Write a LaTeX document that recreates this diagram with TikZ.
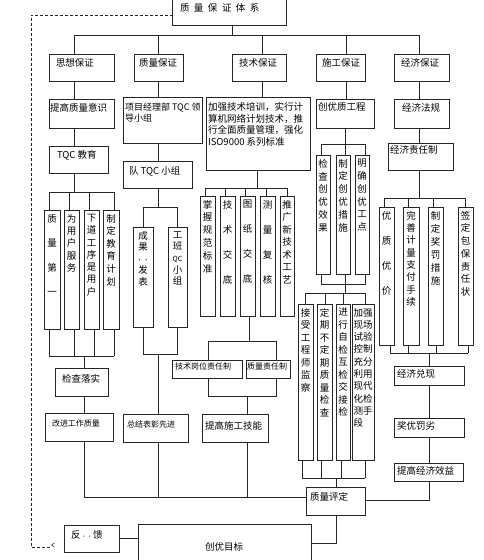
\documentclass[tikz,border=0pt]{standalone}
\usepackage{fontspec}
\newfontfamily\cjk{Noto Sans CJK SC}
\tikzset{
  ln/.style={line width=0.7pt, draw=black!85},
  box/.style={rectangle, draw=black!85, line width=0.7pt, inner sep=0pt, outer sep=0pt},
  txt/.style={inner sep=0pt, outer sep=0pt, text=black, font=\cjk\fontsize{9.5}{11.5}\selectfont},
  sm/.style={txt, font=\cjk\fontsize{8}{10}\selectfont},
  fbdash/.style={line width=0.7pt, draw=black!85, dash pattern=on 3pt off 2pt},
}
\newcommand\bxx[5]{\node[box, minimum width={(#4)-(#2)}, minimum height={(#5)-(#3)}] (#1) at ({((#2)+(#4))/2},{((#3)+(#5))/2}) {};}
\newcommand\tx[5][txt]{\node[#1, anchor=west] (#2) at (#3,#4) {#5};}
\newcommand\colb[7]{\bxx{#1}{#2}{#3}{#4}{#5}\node[txt, anchor=north, align=center, font=\cjk\fontsize{9.5}{#6}\selectfont] (#1t) at ([yshift=-4.2pt]#1.north) {#7};}
\newcommand\gp{\hspace{4.5pt}}
\begin{document}
\begin{tikzpicture}[x=1pt,y=-1pt]
\clip (0,0) rectangle (483,560);
\fill[white] (0,0) rectangle (483,560);

% ---------- boxes ----------
\bxx{T}{172}{-3}{286}{25}
\tx{Tt}{180}{8}{质\gp 量\gp 保\gp 证\gp 体\gp 系}

\bxx{A1}{49}{54}{114}{81}   \tx{A1t}{56}{63}{思想保证}
\bxx{A2}{134}{54}{183}{81}  \tx{A2t}{139}{63}{质量保证}
\bxx{A3}{232}{54}{286}{81}  \tx{A3t}{239}{63}{技术保证}
\bxx{A4}{316}{54}{365}{81}  \tx{A4t}{322}{63}{施工保证}
\bxx{A5}{394}{54}{449}{81}  \tx{A5t}{401}{63}{经济保证}

\bxx{B1}{49}{99}{114}{128}  \tx{B1t}{50}{108}{提高质量意识}
\bxx{B2}{123}{97}{202}{143}
\node[txt, anchor=north west, align=left, font=\cjk\fontsize{9}{11}\selectfont] (B2t) at (125,102.5) {项目经理部 TQC 领\\导小组};
\bxx{B3}{206}{97}{310}{170}
\node[txt, anchor=north west, align=left, font=\cjk\fontsize{9.5}{11.5}\selectfont] (B3t) at (208,102.5) {加强技术培训，实行计\\算机网络计划技术，推\\行全面质量管理，强化\\ISO9000 系列标准};
\bxx{B4}{316}{99}{374}{128} \tx{B4t}{318}{107}{创优质工程}
\bxx{B5}{394}{99}{449}{128} \tx{B5t}{402}{108}{经济法规}

\bxx{C1}{49}{146}{108}{173} \tx{C1t}{57}{155}{TQC 教育}
\bxx{C2}{123}{161}{192}{188} \tx{C2t}{129}{171}{队 TQC 小组}
\bxx{C5}{388}{143}{453}{170} \tx{C5t}{390}{150}{经济责任制}

% left columns
\colb{c11}{44}{210}{60}{329}{24.5}{质\\量\\第\\一}
\colb{c12}{64}{210}{79}{329}{12.3}{为\\用\\户\\服\\务}
\colb{c13}{84}{210}{99}{329}{12.3}{下\\道\\工\\序\\是\\用\\户}
\colb{c14}{103}{210}{119}{329}{12.6}{制\\定\\教\\育\\计\\划}
% middle columns
\colb{c21}{133}{227}{153}{327}{11.5}{成\\果\\{\fontsize{6}{6}\selectfont ·\,·}\\发\\表}
\colb{c22}{168}{227}{187}{327}{11.7}{工\\班\\{\fontsize{7}{7}\selectfont QC}\\小\\组}
% technical columns
\colb{c31}{200}{196}{215}{316}{12.8}{掌\\握\\规\\范\\标\\准}
\colb{c32}{220}{196}{235}{316}{25}{技\\术\\交\\底}
\colb{c33}{240}{196}{255}{316}{25}{图\\纸\\交\\底}
\colb{c34}{260}{196}{275}{316}{25}{测\\量\\复\\核}
\colb{c35}{280}{196}{294}{316}{12.5}{推\\广\\新\\技\\术\\工\\艺}
% construction columns
\colb{c41}{316}{155}{330}{274}{12.8}{检\\查\\创\\优\\效\\果}
\colb{c42}{336}{155}{350}{274}{12.8}{制\\定\\创\\优\\措\\施}
\colb{c43}{355}{155}{369}{274}{12.8}{明\\确\\创\\优\\工\\点}
\colb{c51}{298}{304}{313}{460}{12.5}{接\\受\\工\\程\\师\\监\\察}
\colb{c52}{317}{304}{332}{460}{12.5}{定\\期\\不\\定\\期\\质\\量\\检\\查}
\colb{c53}{336}{304}{350}{460}{12.5}{进\\行\\自\\检\\互\\检\\交\\接\\检}
\colb{c54}{352}{304}{374}{460}{12.3}{加强\\现场\\试验\\控制\\充分\\利用\\现代\\化检\\测手\\段\hphantom{段}}
% economic columns
\colb{c61}{379}{207}{394}{345}{25}{优\\质\\优\\价}
\colb{c62}{403}{207}{419}{345}{12.3}{完\\善\\计\\量\\支\\付\\手\\续}
\colb{c63}{428}{207}{443}{345}{13}{制\\定\\奖\\罚\\措\\施}
\colb{c64}{458}{207}{473}{345}{12.7}{签\\定\\包\\保\\责\\任\\状}

% lower boxes
\bxx{D1}{55}{368}{108}{396}  \tx{D1t}{62}{379}{检查落实}
\bxx{E1}{45}{413}{113}{441}  \tx[sm]{E1t}{52}{423}{改进工作质量}
\bxx{D2}{123}{414}{188}{442} \tx[sm]{D2t}{127}{424}{总结表彰先进}
\bxx{D3a}{172}{360}{242}{378} \tx[sm]{D3at}{175}{366}{技术岗位责任制}
\bxx{D3b}{246}{360}{290}{378} \tx[sm]{D3bt}{247}{366}{质量责任制}
\bxx{E3}{202}{414}{268}{442} \tx{E3t}{205}{426}{提高施工技能}
\bxx{D5}{394}{366}{464}{385} \tx{D5t}{397}{374}{经济兑现}
\bxx{E5}{394}{418}{464}{437} \tx{E5t}{397}{426}{奖优罚劣}
\bxx{F5}{394}{463}{463}{481} \tx{F5t}{397}{471}{提高经济效益}
\bxx{Q}{306}{487}{365}{515}  \tx{Qt}{310}{497}{质量评定}
\bxx{H}{64}{525}{119}{552}   \tx{Ht}{71}{535}{反{\fontsize{5}{5}\selectfont\,·\,·\,}馈}
\bxx{G}{138}{524}{311}{580}  \tx{Gt}{205}{547}{创优目标}

% ---------- connectors ----------
\coordinate (k0) at (232,35);
\coordinate (k1) at (74,35);  \coordinate (k2) at (158,35); \coordinate (k3) at (262,35);
\coordinate (k4) at (346,35); \coordinate (k5) at (419,35);
\draw[ln] (k0 |- T.south) -- (k0);
\draw[ln] (k1) -- (k5);
\foreach \k/\a/\b in {k1/A1/B1,k2/A2/B2,k3/A3/B3,k4/A4/B4,k5/A5/B5}{
  \draw[ln] (\k) -- (\k |- \a.north);
  \draw[ln] (\k |- \a.south) -- (\k |- \b.north);
}

% left branch
\draw[ln] (k1 |- B1.south) -- (k1 |- C1.north);
\coordinate (m1) at (74,192);
\coordinate (m1a) at (49,192); \coordinate (m1b) at (69,192);
\coordinate (m1c) at (89,192); \coordinate (m1d) at (114,192);
\draw[ln] (k1 |- C1.south) -- (m1);
\draw[ln] (m1a) -- (m1d);
\foreach \p/\c in {m1a/c11,m1b/c12,m1c/c13,m1d/c14} \draw[ln] (\p) -- (\p |- \c.north);
\coordinate (n1a) at (49,356); \coordinate (n1b) at (74,356);
\coordinate (n1c) at (94,356); \coordinate (n1d) at (114,356);
\coordinate (n1) at (84,356);
\foreach \p/\c in {n1a/c11,n1b/c12,n1c/c13,n1d/c14} \draw[ln] (\p |- \c.south) -- (\p);
\draw[ln] (n1a) -- (n1d);
\draw[ln] (n1) -- (n1 |- D1.north);
\draw[ln] (n1 |- D1.south) -- (n1 |- E1.north);
\coordinate (z1) at (84,497);
\draw[ln] (n1 |- E1.south) -- (z1) -- (z1 -| Q.west);

% quality branch
\draw[ln] (k2 |- B2.south) -- (k2 |- C2.north);
\coordinate (m2) at (158,207); \coordinate (m2a) at (143,207); \coordinate (m2b) at (177,207);
\draw[ln] (k2 |- C2.south) -- (m2);
\draw[ln] (m2a |- c21.north) -- (m2a) -- (m2b) -- (m2b |- c22.north);
\coordinate (n2) at (158,354); \coordinate (n2a) at (143,354); \coordinate (n2b) at (177,354);
\draw[ln] (n2a |- c21.south) -- (n2a) -- (n2b) -- (n2b |- c22.south);
\draw[ln] (n2) -- (n2 |- D2.north);
\draw[ln] (n2 |- D2.south) -- (n2 |- z1);

% technical branch
\coordinate (m3) at (257,188);
\coordinate (m3a) at (205,188); \coordinate (m3b) at (225,188); \coordinate (m3c) at (245,188);
\coordinate (m3d) at (266,188); \coordinate (m3e) at (287,188);
\draw[ln] (m3 |- B3.south) -- (m3);
\draw[ln] (m3a) -- (m3e);
\foreach \p/\c in {m3a/c31,m3b/c32,m3c/c33,m3d/c34,m3e/c35} \draw[ln] (\p) -- (\p |- \c.north);
\coordinate (n3) at (249,341); \coordinate (n3a) at (208,341); \coordinate (n3b) at (276,341);
\draw[ln] (n3 |- c33.south) -- (n3);
\draw[ln] (n3a |- D3a.north) -- (n3a) -- (n3b) -- (n3b |- D3b.north);
\coordinate (p3) at (247,396); \coordinate (p3a) at (208,396); \coordinate (p3b) at (276,396);
\draw[ln] (p3a |- D3a.south) -- (p3a) -- (p3b) -- (p3b |- D3b.south);
\draw[ln] (p3) -- (p3 |- E3.north);
\draw[ln] (p3 |- E3.south) -- (p3 |- z1);

% construction branch
\coordinate (m4) at (345,144); \coordinate (m4a) at (321,144); \coordinate (m4b) at (365,144);
\draw[ln] (m4 |- B4.south) -- (m4);
\draw[ln] (m4a) -- (m4b);
\foreach \p/\c in {m4a/c41,m4/c42,m4b/c43} \draw[ln] (\p) -- (\p |- \c.north);
\coordinate (n4) at (345,284); \coordinate (n4a) at (321,284); \coordinate (n4b) at (365,284);
\draw[ln] (n4a |- c41.south) -- (n4a) -- (n4b) -- (n4b |- c43.south);
\coordinate (o4) at (345,293);
\draw[ln] (n4 |- c42.south) -- (o4);
\coordinate (o4a) at (305,293); \coordinate (o4b) at (325,293);
\coordinate (o4c) at (343,293); \coordinate (o4d) at (365,293);
\draw[ln] (o4a) -- (o4d);
\foreach \p/\c in {o4a/c51,o4b/c52,o4c/c53,o4d/c54} \draw[ln] (\p) -- (\p |- \c.north);
\coordinate (q4) at (336,478);
\coordinate (q4a) at (302,478); \coordinate (q4b) at (321,478);
\coordinate (q4c) at (341,478); \coordinate (q4d) at (365,478);
\foreach \p/\c in {q4a/c51,q4b/c52,q4c/c53,q4d/c54} \draw[ln] (\p |- \c.south) -- (\p);
\draw[ln] (q4a) -- (q4d);
\draw[ln] (q4) -- (q4 |- Q.north);
\coordinate (r4) at (336,543);
\draw[ln] (q4 |- Q.south) -- (r4) -- (r4 -| G.east);

% economic branch
\draw[ln] (k5 |- B5.south) -- (k5 |- C5.north);
\coordinate (m5) at (419,198);
\coordinate (m5a) at (384,198); \coordinate (m5b) at (408,198);
\coordinate (m5c) at (433,198); \coordinate (m5d) at (465,198);
\draw[ln] (k5 |- C5.south) -- (m5);
\draw[ln] (m5a) -- (m5d);
\foreach \p/\c in {m5a/c61,m5b/c62,m5c/c63,m5d/c64} \draw[ln] (\p) -- (\p |- \c.north);
\coordinate (n5) at (429,353);
\coordinate (n5a) at (390,353); \coordinate (n5b) at (408,353);
\coordinate (n5c) at (436,353); \coordinate (n5d) at (468,353);
\foreach \p/\c in {n5a/c61,n5b/c62,n5c/c63,n5d/c64} \draw[ln] (\p |- \c.south) -- (\p);
\draw[ln] (n5a) -- (n5d);
\draw[ln] (n5) -- (n5 |- D5.north);
\draw[ln] (n5 |- D5.south) -- (n5 |- E5.north);
\draw[ln] (n5 |- E5.south) -- (n5 |- F5.north);
\coordinate (s5) at (429,500);
\draw[ln] (n5 |- F5.south) -- (s5) -- (s5 -| Q.east);

% feedback
\draw[ln] (H.east) -- (H.east -| G.west);
\coordinate (d0) at (50,547); \coordinate (d1) at (31,547); \coordinate (d2) at (31,15);
\draw[fbdash] (d0) -- (d1) -- (d2) -- (d2 -| T.west);
\draw[ln, line width=0.5pt] (54.5,543) -- (51.5,545) -- (54.5,547);
\end{tikzpicture}
\end{document}
